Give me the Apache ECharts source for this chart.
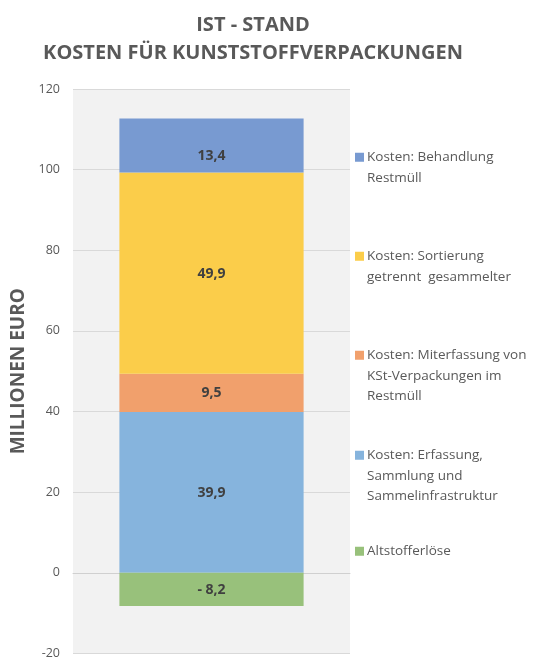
<!DOCTYPE html>
<html><head><meta charset="utf-8">
<script src="https://cdn.jsdelivr.net/npm/echarts@6/dist/echarts.min.js"></script>
<style>html,body{margin:0;padding:0;background:#fff}#c{width:534px;height:660px}</style>
</head><body><div id="c"></div>
<script>
const categories = ['IST - Stand'];
const seriesNames = ['Kosten: Erfassung, Sammlung und Sammelinfrastruktur','Kosten: Miterfassung von KSt-Verpackungen im Restmüll','Kosten: Sortierung getrennt  gesammelter','Kosten: Behandlung Restmüll','Altstofferlöse'];
const legendLabels = ['Kosten: Erfassung,\nSammlung und\nSammelinfrastruktur','Kosten: Miterfassung von\nKSt-Verpackungen im\nRestmüll','Kosten: Sortierung\ngetrennt  gesammelter','Kosten: Behandlung\nRestmüll','Altstofferlöse'];
const erfassung = [39.9];
const miterfassung = [9.5];
const sortierung = [49.9];
const behandlung = [13.4];
const altstofferloese = [-8.2];
const colors = ['#86b4dd','#f1a06c','#fbcd4a','#789ad1','#98c17b'];
const seriesValues = [erfassung, miterfassung, sortierung, behandlung, altstofferloese];
const legendTops = [445, 345, 246, 147, 541];
const labelOffsets = [[0, 1], [0, 0], [0, 1], [0, 11], [0, 1]];

const font = 'Open Sans';
const LH = 20.5;
const fmt = v => v < 0 ? '- ' + Math.abs(v).toFixed(1).replace('.', ',') : v.toFixed(1).replace('.', ',');
// icon: square centred on first text line, inside a box as tall as the text block
function iconFor(lines) {
  const h = lines * LH;
  const c = LH / 2;
  return 'path://M0 0 L0.01 0 M0 ' + (c - 4.5) + ' L9 ' + (c - 4.5) + ' L9 ' + (c + 4.5) + ' L0 ' + (c + 4.5) + ' Z M9 ' + h + ' L8.99 ' + h;
}

const chart = echarts.init(document.getElementById('c'));
chart.setOption({
  animation: false,
  textStyle: {fontFamily: font},
  title: {
    text: 'IST - STAND\nKOSTEN FÜR KUNSTSTOFFVERPACKUNGEN',
    left: 248, textAlign: 'center', top: 6,
    textStyle: {fontSize: 20, fontWeight: 'bold', color: '#595959', lineHeight: 28, fontFamily: font}
  },
  legend: seriesNames.map((n, i) => {
    const lines = legendLabels[i].split('\n').length;
    return {
      data: [{name: n, icon: iconFor(lines)}], left: 355, top: legendTops[i], orient: 'vertical', padding: 0,
      itemWidth: 9, itemHeight: lines * LH, itemGap: 0, symbolKeepAspect: false,
      formatter: () => legendLabels[i],
      textStyle: {fontSize: 13.5, color: '#595959', lineHeight: LH, fontFamily: font, padding: [0,0,0,-2]},
      selectedMode: false
    };
  }),
  grid: {left: 73, right: 184, top: 89, bottom: 3, show: true, backgroundColor: '#f2f2f2', borderWidth: 0},
  xAxis: {type: 'category', data: categories, axisLabel: {show: false}, axisTick: {show: false},
    axisLine: {show: true, onZero: true, lineStyle: {color: '#d0d0d0', width: 1}}},
  yAxis: {type: 'value', min: -20, max: 120, interval: 20,
    name: 'MILLIONEN EURO', nameLocation: 'middle', nameGap: 43, nameRotate: 90,
    nameTextStyle: {fontSize: 19, fontWeight: 'bold', color: '#595959', fontFamily: font},
    axisLabel: {fontSize: 12.5, color: '#595959', margin: 13, fontFamily: font},
    axisLine: {show: false}, axisTick: {show: false},
    splitLine: {lineStyle: {color: '#d9d9d9', width: 1}}},
  series: seriesNames.map((n, i) => ({
    name: n, type: 'bar', stack: 'total', data: seriesValues[i], barWidth: '66.5%',
    itemStyle: {color: colors[i]},
    label: {show: true, position: 'inside', offset: labelOffsets[i], formatter: p => fmt(p.value), fontSize: 14, fontWeight: 'bold', color: '#404040', fontFamily: font}
  }))
});
</script></body></html>
